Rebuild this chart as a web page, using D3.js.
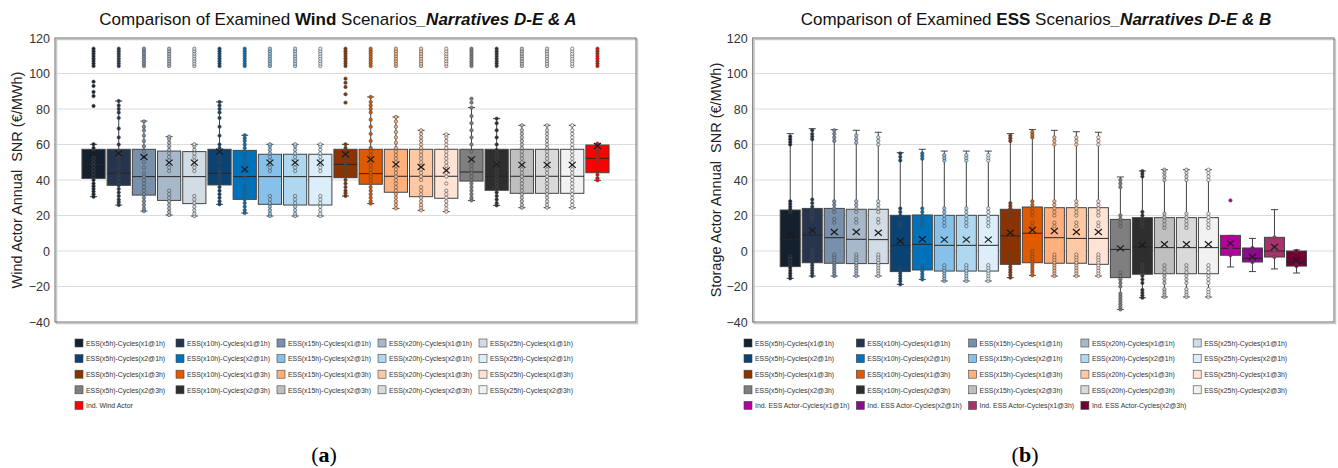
<!DOCTYPE html>
<head>
  <meta charset="utf-8">
  <script src="https://d3js.org/d3.v7.min.js"></script>
  <style>
    body {
      margin: 0;
      background: #fff;
      font-family: "Liberation Sans", Arial, sans-serif;
    }
    svg {
      position: absolute;
      top: 0;
      left: 0;
    }
    .tick text { fill: #333; font-size: 12.5px; }
    .legend text { fill: #333; font-size: 7.6px; }
  </style>
</head>

<body>
  <svg width="1338" height="468"></svg>

  <script>
    // scenario names, in box order (same order as the legend, row by row)
    var scenarioNames = [
      'ESS(x5h)-Cycles(x1@1h)', 'ESS(x10h)-Cycles(x1@1h)', 'ESS(x15h)-Cycles(x1@1h)', 'ESS(x20h)-Cycles(x1@1h)', 'ESS(x25h)-Cycles(x1@1h)',
      'ESS(x5h)-Cycles(x2@1h)', 'ESS(x10h)-Cycles(x2@1h)', 'ESS(x15h)-Cycles(x2@1h)', 'ESS(x20h)-Cycles(x2@1h)', 'ESS(x25h)-Cycles(x2@1h)',
      'ESS(x5h)-Cycles(x1@3h)', 'ESS(x10h)-Cycles(x1@3h)', 'ESS(x15h)-Cycles(x1@3h)', 'ESS(x20h)-Cycles(x1@3h)', 'ESS(x25h)-Cycles(x1@3h)',
      'ESS(x5h)-Cycles(x2@3h)', 'ESS(x10h)-Cycles(x2@3h)', 'ESS(x15h)-Cycles(x2@3h)', 'ESS(x20h)-Cycles(x2@3h)', 'ESS(x25h)-Cycles(x2@3h)'
    ];
    var scenarioColors = [
      '#15202E', '#26344D', '#7890AB', '#A6B8CA', '#D2DCE4',
      '#0B4274', '#0072BC', '#87C1E9', '#AED8EF', '#DCEEF9',
      '#8B3300', '#E05A00', '#FFB07C', '#FFC9A5', '#FFE3D5',
      '#7F7F7F', '#2E2E2E', '#BFBFBF', '#D9D9D9', '#F2F2F2'
    ];
    var windExtraNames = ['Ind. Wind Actor'];
    var windExtraColors = ['#FF0000'];
    var essExtraNames = ['Ind. ESS Actor-Cycles(x1@1h)', 'Ind. ESS Actor-Cycles(x2@1h)', 'Ind. ESS Actor-Cycles(x1@3h)', 'Ind. ESS Actor-Cycles(x2@3h)'];
    var essExtraColors = ['#B4009E', '#8C0A8C', '#A8336A', '#720034'];

    var yTicks = [-40, -20, 0, 20, 40, 60, 80, 100, 120];

    // [whisker low, q1, median, q3, whisker high, mean]  (€/MWh)
    var windStats = [
      [30.6, 40.9, 48.8, 57.3, 60.1, 55.0],
      [25.9, 37.0, 43.8, 57.3, 84.5, 55.0],
      [22.5, 31.5, 41.9, 57.3, 73.2, 53.0],
      [20.3, 28.5, 41.9, 56.3, 64.4, 49.8],
      [19.7, 26.7, 41.9, 56.0, 60.1, 49.8],
      [26.3, 37.2, 43.8, 57.3, 84.0, 56.0],
      [21.4, 29.1, 41.9, 56.7, 65.2, 46.0],
      [19.7, 26.3, 41.9, 54.5, 60.1, 49.8],
      [19.7, 25.9, 41.9, 54.5, 60.1, 49.8],
      [19.7, 25.9, 41.9, 54.5, 60.1, 49.8],
      [31.0, 41.3, 48.8, 57.3, 60.1, 54.5],
      [26.7, 37.6, 43.6, 57.3, 86.8, 51.6],
      [24.0, 33.1, 42.1, 57.3, 75.5, 48.8],
      [22.9, 30.6, 42.1, 57.3, 68.0, 47.3],
      [22.2, 29.7, 42.1, 57.3, 65.7, 45.4],
      [28.5, 39.4, 44.5, 57.3, 80.8, 51.6],
      [25.7, 34.2, 42.1, 57.3, 74.6, 48.8],
      [24.4, 32.5, 42.1, 57.3, 70.8, 48.5],
      [24.4, 32.5, 42.1, 57.3, 70.8, 48.5],
      [24.4, 32.5, 42.1, 57.3, 70.8, 48.5],
      [39.8, 44.1, 52.2, 59.7, 60.5, 59.2]
    ];
    // points stacked near the top of every wind scenario
    var windTopPoints = [104.2, 105.6, 107, 108.4, 109.8, 111.2, 112.6, 114];
    var windPoints = [
      [30.6, 32, 33.5, 35, 36.5, 38, 40, 42, 44, 46, 48, 50, 52, 54, 56, 58, 60.1, 81.7, 87.3, 89.6, 93, 95.4],
      [25.9, 27.5, 29, 31, 33, 35, 37, 39, 41, 43, 47, 50, 53, 56, 60, 64, 69, 75, 78, 80, 82, 84.5],
      [22.5, 24, 26, 28, 30, 32, 34, 36, 38, 40, 42, 44, 47, 50, 53, 56, 59, 62, 65, 68, 70, 73],
      [20.3, 22, 24, 26, 28, 30, 32, 34, 45, 47, 49, 51, 53, 55, 57, 59, 61, 63, 64.4],
      [19.7, 21, 23, 25, 27, 29, 31, 45, 47, 49, 51, 53, 55, 57, 59, 60.1],
      [26.3, 28, 30, 32, 34, 36, 38, 40, 42, 44, 46, 50, 53, 56, 58, 60, 65, 70, 75, 78, 80, 82, 84],
      [21.4, 23, 25, 27, 29, 31, 33, 35, 37, 41, 45, 48, 51, 54, 56, 58, 60, 62, 63.5, 65.2],
      [19.7, 21, 23, 25, 27, 29, 31, 45, 47, 49, 51, 53, 55, 57, 59, 60.1],
      [19.7, 21, 23, 25, 27, 29, 31, 45, 47, 49, 51, 53, 55, 57, 59, 60.1],
      [19.7, 21, 23, 25, 27, 29, 31, 45, 47, 49, 51, 53, 55, 57, 59, 60.1],
      [31, 32.5, 34, 36, 38, 40, 42, 44, 46, 48, 50, 52, 54, 56, 58, 60.1, 83.6, 88.3, 92.4, 94.8, 97.1],
      [26.7, 28, 30, 32, 34, 36, 38, 40, 42, 44, 46, 48, 50, 52, 54, 56, 58, 62, 66, 70, 74, 78, 80, 82, 84, 86.8],
      [24, 26, 28, 30, 32, 34, 36, 38, 40, 42, 44, 46, 48, 50, 52, 54, 56, 58, 61, 64, 67, 70, 73, 75.5],
      [22.9, 24.5, 26, 28, 30, 32, 34, 36, 40, 42, 44, 46, 48, 50, 52, 54, 56, 58, 60, 62, 64, 66, 68],
      [22.2, 24, 26, 28, 30, 32, 34, 38, 42, 44, 46, 48, 50, 52, 54, 56, 58, 60, 62, 64, 65.7],
      [28.5, 30, 32, 34, 36, 38, 40, 42, 44, 46, 48, 50, 52, 56, 60, 64, 68, 72, 76, 80.8, 83.6, 85.8],
      [25.7, 27, 29, 31, 33, 35, 37, 39, 41, 43, 45, 47, 49, 51, 53, 55, 57, 60, 64, 68, 72, 74.6],
      [24.4, 26, 28, 30, 32, 34, 36, 38, 40, 42, 44, 46, 48, 50, 52, 54, 56, 58, 60, 62, 64, 66, 68, 70.8],
      [24.4, 26, 28, 30, 32, 34, 36, 38, 40, 42, 44, 46, 48, 50, 52, 54, 56, 58, 60, 62, 64, 66, 68, 70.8],
      [24.4, 26, 28, 30, 32, 34, 36, 38, 40, 42, 44, 46, 48, 50, 52, 54, 56, 58, 60, 62, 64, 66, 68, 70.8],
      [39.8, 41, 43, 45, 50, 52, 54, 56, 58, 60.5]
    ];

    var essStats = [
      [-15.4, -8.8, 6.4, 23.1, 66.1, 9.4],
      [-14.1, -6.6, 9.0, 24.0, 68.9, 11.6],
      [-14.1, -6.9, 7.5, 24.0, 68.4, 10.7],
      [-14.1, -7.1, 6.6, 23.5, 68.0, 10.7],
      [-14.1, -7.1, 6.4, 23.5, 66.9, 10.3],
      [-18.8, -11.6, 3.2, 20.1, 55.4, 5.6],
      [-16.0, -10.7, 3.8, 20.3, 57.3, 6.6],
      [-16.9, -11.3, 3.2, 20.1, 56.3, 6.4],
      [-16.9, -11.3, 3.2, 20.1, 56.3, 6.4],
      [-16.9, -11.3, 3.2, 20.1, 56.3, 6.4],
      [-15.0, -7.5, 8.5, 23.5, 66.1, 10.3],
      [-13.7, -6.6, 10.0, 24.8, 68.4, 11.8],
      [-14.1, -6.9, 7.5, 24.4, 68.0, 11.3],
      [-14.1, -6.9, 7.1, 24.4, 67.2, 10.7],
      [-14.1, -7.5, 7.1, 24.4, 66.9, 10.7],
      [-32.9, -15.0, 0.9, 17.8, 41.7, 1.5],
      [-26.3, -13.1, 2.3, 18.8, 45.1, 3.4],
      [-25.9, -12.8, 1.9, 18.8, 45.8, 3.8],
      [-25.9, -12.8, 1.9, 18.8, 45.8, 3.8],
      [-25.9, -12.8, 1.9, 18.8, 45.8, 3.8],
      [-9.0, -2.4, 1.5, 8.8, 8.8, 4.3],
      [-11.6, -6.2, -4.1, 1.7, 7.1, -3.4],
      [-10.1, -3.4, 0.0, 7.7, 23.3, 2.3],
      [-12.4, -8.5, -6.2, 0.0, 0.6, -5.3]
    ];
    var essPoints = [
      [-15.4, -14, -12.5, -11, -9.5, -8, -6.5, -5, -3, 22, 23.5, 25, 26.5, 28, 60, 61.5, 63, 64.5],
      [-14.1, -12.5, -11, -9.5, -8, -6.5, -5, -3, -1, 0.5, 18, 20, 22, 23.5, 25, 27, 29, 63, 64.5, 66, 68],
      [-14.1, -12.5, -11, -9.5, -8, -6.5, -5, -3.5, -2, 16, 18, 22, 24, 26, 28, 62, 64, 66, 68],
      [-14.1, -12.5, -11, -9.5, -8, -6.5, -5, -3.5, -2, 16, 18, 22, 24, 26, 28, 61, 63, 65],
      [-14.1, -12.5, -11, -9.5, -8, -6.5, -5, -3.5, -2, 16, 18, 22, 24, 26, 28, 60, 62, 64],
      [-18.8, -17, -15.5, -14, -12.5, -11, -9.5, 14, 16, 20, 22, 24, 51, 53, 55],
      [-16, -14.5, -13, -11.5, -10, -8.5, 14, 16, 18, 20, 22, 24, 52, 53.5, 55],
      [-16.9, -15.5, -14, -12.5, -11, -9.5, -8, 14, 16, 18, 20, 22, 24, 51, 52.5, 54],
      [-16.9, -15.5, -14, -12.5, -11, -9.5, -8, 14, 16, 18, 20, 22, 24, 51, 52.5, 54],
      [-16.9, -15.5, -14, -12.5, -11, -9.5, -8, 14, 16, 18, 20, 22, 24, 51, 52.5, 54],
      [-15, -13.5, -12, -10.5, -9, -7.5, -6, -4.5, -3, -1.5, 18, 19.5, 21, 22.5, 24, 25.5, 27, 62, 63.5, 65],
      [-13.7, -12, -10.5, -9, -7.5, -6, -4.5, -3, -1.5, 0, 14, 16, 20, 22, 24, 26, 28, 64, 65.5, 67],
      [-14.1, -12.5, -11, -9.5, -8, -6.5, -5, -3.5, -2, 14, 16, 20, 22, 24, 26, 28, 60, 62, 64],
      [-14.1, -12.5, -11, -9.5, -8, -6.5, -5, -3.5, -2, 14, 16, 20, 22, 24, 26, 28, 60, 62, 64],
      [-14.1, -12.5, -11, -9.5, -8, -6.5, -5, -3.5, -2, 14, 16, 20, 22, 24, 26, 28, 60, 62, 64],
      [-32.9, -31.5, -30, -28.5, -27, -25.5, -24, -20, -18, -16, -14, -12, 14, 16, 18, 20, 36, 38, 40],
      [-26.3, -25, -23.5, -22, -18, -16, -14, -12, -10, -8, 14, 16, 18, 20, 22, 42, 43.5, 45],
      [-25.9, -24.5, -23, -21.5, -18, -16, -14, -12, -10, -8, 13, 15, 17, 19, 21, 40, 42, 44, 45.8],
      [-25.9, -24.5, -23, -21.5, -18, -16, -14, -12, -10, -8, 13, 15, 17, 19, 21, 40, 42, 44, 45.8],
      [-25.9, -24.5, -23, -21.5, -18, -16, -14, -12, -10, -8, 13, 15, 17, 19, 21, 40, 42, 44, 45.8],
      [-2.4, 1.5, 5.3, 28.5],
      [-6.2, -4.1, 1.7],
      [-3.4, 0, 2.3, 7.7],
      [-8.5, -6.2, 0]
    ];

    var svg = d3.select('svg');
    var y = d3.scaleLinear().domain([-40, 120]).range([322, 38]);

    function drawPanel(p) {
      var g = svg.append('g');
      var x = d3.scaleBand()
        .domain(p.names)
        .range([p.left, p.right])
        .paddingInner(p.inner)
        .paddingOuter(p.outer);
      var bw = x.bandwidth();

      // title
      var title = g.append('text')
        .attr('x', p.titleX)
        .attr('y', 25)
        .attr('text-anchor', 'middle')
        .style('font-size', '17px')
        .style('fill', '#111');
      title.append('tspan').text('Comparison of Examined ');
      title.append('tspan').style('font-weight', 700).text(p.titleBold);
      title.append('tspan').text(' Scenarios');
      title.append('tspan').style('font-weight', 700).style('font-style', 'italic').text(p.titleTail);

      // grid lines
      g.selectAll('line.grid')
        .data(yTicks.slice(1, -1)).enter().append('line')
        .attr('x1', p.left).attr('x2', p.right)
        .attr('y1', function(d) {return y(d)}).attr('y2', function(d) {return y(d)})
        .attr('stroke', '#DCDCDC')
        .attr('stroke-width', 1);

      // plot frame with a soft shadow
      g.append('rect')
        .attr('x', p.left + 1.5).attr('y', 39.5)
        .attr('width', p.right - p.left).attr('height', 322 - 38)
        .attr('fill', 'none').attr('stroke', '#C8C8C8').attr('stroke-width', 1.5);
      g.append('rect')
        .attr('x', p.left).attr('y', 38)
        .attr('width', p.right - p.left).attr('height', 322 - 38)
        .attr('fill', 'none').attr('stroke', '#6E6E6E').attr('stroke-width', 1);

      // y axis labels
      var axis = g.append('g')
        .attr('transform', 'translate(' + p.left + ',0)')
        .call(d3.axisLeft(y).tickValues(yTicks).tickSize(0).tickPadding(5));
      axis.select('.domain').remove();
      axis.selectAll('text').style('font-family', '"Liberation Sans", Arial, sans-serif');

      g.append('text')
        .attr('transform', 'translate(' + p.yTitleX + ',180)rotate(-90)')
        .attr('text-anchor', 'middle')
        .style('font-size', '14.5px')
        .style('fill', '#222')
        .style('white-space', 'pre')
        .text(p.yTitle);

      var data = p.names.map(function(name, i) {
        return {name: name, color: p.colors[i], s: p.stats[i], pts: p.points[i]};
      });

      var boxes = g.selectAll('g.box')
        .data(data).enter().append('g')
        .classed('box', true)
        .attr('transform', function(d) {return 'translate(' + (x(d.name) + bw / 2) + ',0)'});

      // whiskers
      boxes.append('line')
        .attr('x1', 0).attr('x2', 0)
        .attr('y1', function(d) {return y(d.s[0])}).attr('y2', function(d) {return y(d.s[4])})
        .attr('stroke', '#404040').attr('stroke-width', 1);
      boxes.selectAll('line.cap')
        .data(function(d) {return [d.s[0], d.s[4]]}).enter().append('line')
        .classed('cap', true)
        .attr('x1', -3.5).attr('x2', 3.5)
        .attr('y1', function(v) {return y(v)}).attr('y2', function(v) {return y(v)})
        .attr('stroke', '#404040').attr('stroke-width', 1);

      // box
      boxes.append('rect')
        .attr('x', -bw / 2).attr('width', bw)
        .attr('y', function(d) {return y(d.s[3])})
        .attr('height', function(d) {return y(d.s[1]) - y(d.s[3])})
        .attr('fill', function(d) {return d.color})
        .attr('stroke', '#444').attr('stroke-width', 1);

      // median
      boxes.append('line')
        .attr('x1', -bw / 2).attr('x2', bw / 2)
        .attr('y1', function(d) {return y(d.s[2])}).attr('y2', function(d) {return y(d.s[2])})
        .attr('stroke', '#262626').attr('stroke-width', 1);

      // data points
      boxes.selectAll('circle')
        .data(function(d) {
          return d.pts.concat(p.topPoints).map(function(v) {return {v: v, color: d.color}});
        }).enter().append('circle')
        .attr('cx', 0)
        .attr('cy', function(d) {return y(d.v)})
        .attr('r', 1.7)
        .attr('fill', function(d) {return d.color})
        .attr('stroke', '#4A4A4A').attr('stroke-width', 0.6);

      // mean marker
      boxes.append('path')
        .attr('d', function(d) {
          var m = y(d.s[5]);
          return 'M-3.5 ' + (m - 3) + 'L3.5 ' + (m + 3) + 'M-3.5 ' + (m + 3) + 'L3.5 ' + (m - 3);
        })
        .attr('stroke', '#1A1A1A').attr('stroke-width', 1.2);

      // legend (text squeezed a little, like the original narrow legend font)
      var legend = g.selectAll('g.legend')
        .data(data).enter().append('g')
        .classed('legend', true)
        .attr('transform', function(d, i) {
          return 'translate(' + (p.legendX + (i % 5) * p.legendStep) + ',' + (343 + Math.floor(i / 5) * 15.6) + ')';
        });
      legend.append('rect')
        .attr('x', 0).attr('y', -4)
        .attr('width', 8).attr('height', 8)
        .attr('fill', function(d) {return d.color})
        .attr('stroke', '#444').attr('stroke-width', 0.6);
      legend.append('text')
        .attr('transform', 'translate(11,2.7)scale(0.91,1)')
        .text(function(d) {return d.name});

      // panel label
      var lab = svg.append('text')
        .attr('x', p.labelX).attr('y', 462)
        .attr('text-anchor', 'middle')
        .style('font-family', '"Liberation Serif", "DejaVu Serif", serif')
        .style('font-size', '22px');
      lab.append('tspan').text('(');
      lab.append('tspan').style('font-weight', 700).text(p.label);
      lab.append('tspan').text(')');
    }

    drawPanel({
      names: scenarioNames.concat(windExtraNames),
      colors: scenarioColors.concat(windExtraColors),
      stats: windStats,
      points: windPoints,
      topPoints: windTopPoints,
      left: 55, right: 636, inner: 0.08, outer: 1.07,
      titleX: 338, titleBold: 'Wind', titleTail: '_Narratives D-E & A',
      yTitle: 'Wind Actor Annual  SNR (€/MWh)', yTitleX: 22,
      legendX: 75, legendStep: 101,
      label: 'a', labelX: 324
    });

    drawPanel({
      names: scenarioNames.concat(essExtraNames),
      colors: scenarioColors.concat(essExtraColors),
      stats: essStats,
      points: essPoints,
      topPoints: [],
      left: 752.7, right: 1334, inner: 0.09, outer: 1.25,
      titleX: 1036, titleBold: 'ESS', titleTail: '_Narratives D-E & B',
      yTitle: 'Storage Actor Annual  SNR (€/MWh)', yTitleX: 721,
      legendX: 744, legendStep: 112.3,
      label: 'b', labelX: 1025
    });
  </script>
</body>
